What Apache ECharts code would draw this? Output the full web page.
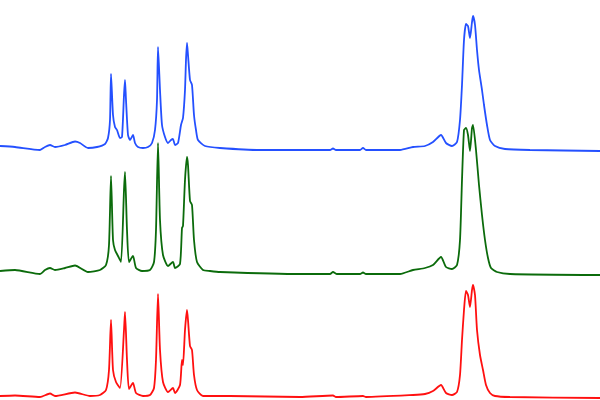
<!DOCTYPE html>
<html>
<head>
<meta charset="utf-8">
<script src="https://cdn.jsdelivr.net/npm/echarts@6/dist/echarts.min.js"></script>
<style>html,body{margin:0;padding:0;background:#fff}#c{width:600px;height:400px}</style>
</head>
<body>
<div id="c"></div>
<script>
// Spectra: [shift, intensity] pairs
const blueSpectrum = [[0,4],[15,3],[40,0],[45,3],[50,5],[55,3],[65,5],[75,8.5],[80,7],[88,2],[97,3],[105,6],[108,12],[110,30],[111,76],[113,35],[115,23],[117,20],[120,12],[122,13],[124,55],[125,70],[126,50],[128,15],[130,10],[133,15],[135,7],[138,3],[143,2],[148,3],[152,7],[155,20],[157,50],[158,103],[160,60],[162,25],[165,13],[168,7],[171,10],[173,11],[175,5],[178,7],[181,25],[183,32],[185,60],[186,90],[187,107],[188,95],[190,70],[192,65],[194,35],[196,20],[198,10],[205,4],[220,2],[260,0],[300,0],[330,0],[333,1.5],[336,0],[360,0],[363,2],[366,0],[400,0],[413,3],[425,4],[433,8],[441,15],[446,7],[452,4],[457,8],[460,30],[462,65],[464,110],[466,126],[468,124],[470,112],[472,128],[473,134],[475,125],[477,100],[479,80],[482,60],[484,45],[487,25],[490,10],[495,4],[505,1],[530,0],[600,-1]];
const greenSpectrum = [[0,3],[15,4],[40,0],[45,4],[50,6],[55,4],[65,6],[75,8.5],[88,2],[100,4],[106,9],[109,29],[111,98],[113,34],[115,24],[118,18],[121,12],[124,84],[125,102],[127,44],[129,12],[133,18],[136,6],[142,3],[150,4],[154,12],[156,44],[158,131],[160,54],[163,19],[168,8],[173,12],[175,6],[180,10],[182,46],[183,48],[185,94],[187,117],[188,109],[190,73],[192,69],[194,34],[197,12],[203,4],[210,3],[220,2],[300,0],[330,0],[333,2],[337,0],[360,0],[363,1.5],[366,0],[400,0],[413,4],[425,6],[433,9],[441,17],[446,7],[452,5],[457,9],[460,34],[462,94],[464,144],[466,146],[468,139],[470,123],[472,146],[473,149],[476,124],[479,89],[482,59],[485,34],[488,16],[491,6],[497,2],[510,0],[600,-1]];
const redSpectrum = [[0,1],[15,1.5],[40,0],[50,3.5],[55,1],[75,4.5],[90,1],[100,2],[106,7],[109,27],[111,77],[113,27],[116,15],[120,9],[124,67],[125,85],[127,37],[129,8],[133,14],[136,4],[143,1],[150,2],[154,9],[156,37],[158,103],[160,47],[163,15],[168,5],[173,9],[175,4],[180,12],[182,37],[183,32],[185,67],[187,87],[188,77],[190,51],[192,47],[194,22],[197,7],[203,1],[230,1],[300,0],[333,1.5],[336,0],[363,1],[366,0],[413,2],[425,3],[433,6],[441,12],[446,4],[452,2],[457,5],[460,22],[462,57],[464,87],[466,106],[468,102],[470,90],[472,107],[473,112],[475,102],[477,67],[480,42],[483,27],[486,12],[490,4],[495,1],[510,0],[600,-1]];

const spectra = [
  {data: blueSpectrum, offset: 250, color: '#2450ff'},
  {data: greenSpectrum, offset: 126, color: '#0b6b0b'},
  {data: redSpectrum, offset: 3, color: '#ff1010'}
];

const chart = echarts.init(document.getElementById('c'));
chart.setOption({
  animation: false,
  grid: {left: 0, right: 0, top: 0, bottom: 0},
  xAxis: {type: 'value', min: 0, max: 600, show: false},
  yAxis: {type: 'value', min: 0, max: 400, show: false},
  series: spectra.map(s => ({
    type: 'line',
    data: s.data.map(p => [p[0], p[1] + s.offset]),
    showSymbol: false,
    smooth: 0.2,
    lineStyle: {color: s.color, width: 1.8},
    itemStyle: {color: s.color}
  }))
});
</script>
</body>
</html>
